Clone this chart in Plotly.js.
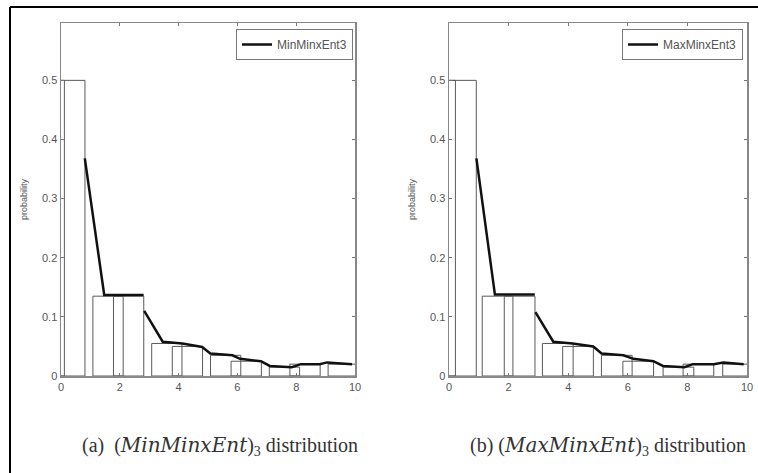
<!DOCTYPE html>
<html>
<head>
<meta charset="utf-8">
<script src="https://cdn.plot.ly/plotly-3.0.1.min.js"></script>
<style>
html,body{margin:0;padding:0;background:#fff;}
#chart{width:758px;height:473px;}
</style>
</head>
<body>
<div id="chart"></div>
<script>
// ---- data ----
const barCentersA = [-0.4, 0.3, 1.6, 2.3, 3.6, 4.3, 5.6, 6.3, 7.6, 8.3, 9.6];
const barHeightsA = [0.5, 0.5, 0.135, 0.135, 0.055, 0.05, 0.035, 0.025, 0.015, 0.02, 0.02];
const lineXA = [0.81, 1.47, 2.81, null, 2.83, 3.46, 4.13, 4.8, 5.08, 5.83, 6.09, 6.8, 7.1, 7.85, 8.16, 8.8, 9.05, 9.9];
const lineYA = [0.368, 0.137, 0.137, null, 0.11, 0.058, 0.055, 0.049, 0.038, 0.035, 0.029, 0.025, 0.017, 0.015, 0.02, 0.02, 0.023, 0.02];

const barCentersB = [-0.3, 0.4, 1.63, 2.37, 3.65, 4.33, 5.63, 6.35, 7.7, 8.37, 9.7];
const barHeightsB = [0.5, 0.5, 0.135, 0.135, 0.055, 0.05, 0.035, 0.025, 0.015, 0.02, 0.02];
const lineXB = [0.92, 1.54, 2.88, null, 2.9, 3.5, 4.15, 4.84, 5.12, 5.85, 6.19, 6.86, 7.18, 7.9, 8.18, 8.88, 9.21, 9.89];
const lineYB = [0.368, 0.138, 0.138, null, 0.108, 0.058, 0.055, 0.05, 0.038, 0.035, 0.029, 0.025, 0.017, 0.015, 0.02, 0.02, 0.023, 0.02];

const seriesNames = ["MinMinxEnt3", "MaxMinxEnt3"];
const xTickVals = [0, 2, 4, 6, 8, 10];
const yTickVals = [0, 0.1, 0.2, 0.3, 0.4, 0.5];
const yTickText = ["0", "0.1", "0.2", "0.3", "0.4", "0.5"];
const captionLabels = ["(a)", "(b)"];
const captionMath = ["MinMinxEnt", "MaxMinxEnt"];
const captionTail = "distribution";
const yTitle = "probability";

// ---- styling ----
const W = 758, H = 473;
const px = v => v / W;
const py = v => 1 - v / H;
const barStyle = {color: 'rgba(255,255,255,0)', line: {color: '#5a5a5a', width: 1}};
const tickFont = {family: 'Liberation Sans, Arial, sans-serif', size: 11, color: '#555'};

function barTrace(x, y, xa, ya) {
  return {type: 'bar', x: x, y: y, width: 1.03, xaxis: xa, yaxis: ya,
          marker: barStyle, showlegend: false, hoverinfo: 'skip'};
}
function lineTrace(x, y, xa, ya, name, lg) {
  return {type: 'scatter', mode: 'lines', x: x, y: y, xaxis: xa, yaxis: ya, name: name,
          legend: lg, connectgaps: false, line: {color: '#111', width: 2.5}};
}

const data = [
  barTrace(barCentersA, barHeightsA, 'x', 'y'),
  lineTrace(lineXA, lineYA, 'x', 'y', seriesNames[0], 'legend'),
  barTrace(barCentersB, barHeightsB, 'x2', 'y2'),
  lineTrace(lineXB, lineYB, 'x2', 'y2', seriesNames[1], 'legend2')
];

function xAxis(d, anchor) {
  return {domain: d, anchor: anchor, range: [0, 10], tickvals: xTickVals, ticks: 'inside',
          ticklen: 3, tickcolor: '#777', mirror: 'ticks', showline: true, linecolor: '#888',
          linewidth: 1.5, showgrid: false, zeroline: false, tickfont: tickFont, fixedrange: true};
}
function yAxis(d, anchor) {
  return {domain: d, anchor: anchor, range: [0, 0.597], tickvals: yTickVals, ticktext: yTickText,
          ticks: 'inside', ticklen: 3, tickcolor: '#777', mirror: 'ticks', showline: true,
          linecolor: '#888', linewidth: 1.5, showgrid: false, zeroline: false, tickfont: tickFont,
          title: {text: yTitle, font: {family: 'Liberation Sans, Arial, sans-serif', size: 9, color: '#555'}, standoff: 13},
          fixedrange: true};
}
const yDom = [py(376), py(23)];
const legendCommon = {bgcolor: '#fff', bordercolor: '#777', borderwidth: 1, xanchor: 'right', yanchor: 'top',
                      font: {family: 'Liberation Sans, Arial, sans-serif', size: 12, color: '#555'}};
const capFont = {family: 'Liberation Serif, Times New Roman, serif', size: 20, color: '#333'};

function caption(i, gap) {
  return captionLabels[i] + gap + '(<span style="font-family:DejaVu Serif;font-style:italic">' +
         captionMath[i] + '</span>)<sub>3</sub> ' + captionTail;
}

const layout = {
  width: W, height: H,
  margin: {l: 0, r: 0, t: 0, b: 0},
  paper_bgcolor: '#fff', plot_bgcolor: '#fff',
  barmode: 'overlay', bargap: 0,
  xaxis: xAxis([px(61), px(355)], 'y'),
  yaxis: yAxis(yDom, 'x'),
  xaxis2: xAxis([px(449), px(747)], 'y2'),
  yaxis2: yAxis(yDom, 'x2'),
  legend: Object.assign({x: px(353), y: py(29)}, legendCommon),
  legend2: Object.assign({x: px(743), y: py(29)}, legendCommon),
  annotations: [
    {xref: 'paper', yref: 'paper', x: px(220), y: py(446), xanchor: 'center', yanchor: 'middle',
     text: caption(0, '  '), showarrow: false, font: capFont},
    {xref: 'paper', yref: 'paper', x: px(608), y: py(446), xanchor: 'center', yanchor: 'middle',
     text: caption(1, ' '), showarrow: false, font: capFont}
  ],
  shapes: [
    {type: 'line', xref: 'paper', yref: 'paper', x0: px(10), x1: 1, y0: py(7), y1: py(7), line: {color: '#000', width: 2}},
    {type: 'line', xref: 'paper', yref: 'paper', x0: px(10), x1: px(10), y0: py(7), y1: 0, line: {color: '#000', width: 2}}
  ]
};

Plotly.newPlot('chart', data, layout, {displayModeBar: false, staticPlot: true});
</script>
</body>
</html>
